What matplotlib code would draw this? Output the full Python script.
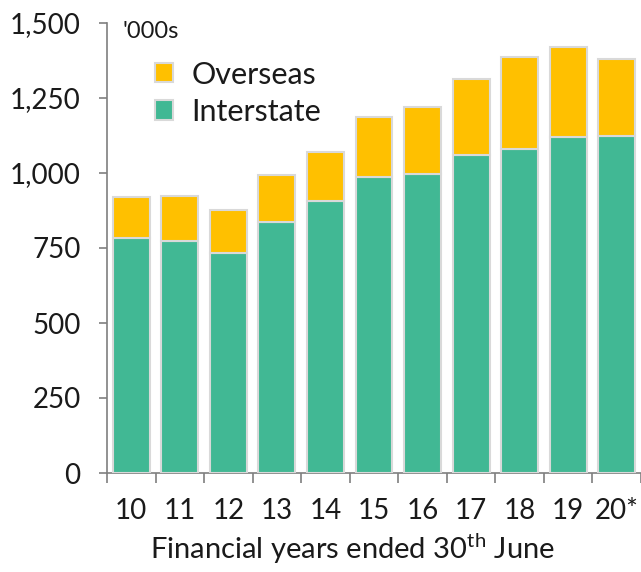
import matplotlib.pyplot as plt
import numpy as np

# visitors, '000s, financial years ended 30th June
years = ["10", "11", "12", "13", "14", "15", "16", "17", "18", "19", "20*"]
interstate = [783, 773, 733, 837, 907, 987, 997, 1060, 1080, 1120, 1124]
overseas = [137, 150, 144, 156, 163, 200, 223, 253, 307, 299, 255]

green = "#41B894"
yellow = "#FFC000"
edge = "#D9D9D9"
axis_col = "#7F7F7F"
text_col = "#1A1A1A"

plt.rcParams["font.family"] = ["Lato", "DejaVu Sans"]
plt.rcParams["mathtext.fontset"] = "custom"
plt.rcParams["mathtext.rm"] = "Lato"

fig = plt.figure(figsize=(6.41, 5.72), dpi=100)
ax = fig.add_axes([107 / 641, 99 / 572, 534 / 641, 450 / 572])

x = np.arange(len(years))
b1 = ax.bar(x, interstate, width=0.76, color=green, edgecolor=edge, linewidth=1.5, zorder=3)
b2 = ax.bar(x, overseas, width=0.76, bottom=interstate, color=yellow, edgecolor=edge,
            linewidth=1.5, zorder=3)

ax.set_xlim(-0.5, 10.42)
ax.set_ylim(0, 1500)

for s in ["top", "right"]:
    ax.spines[s].set_visible(False)
for s in ["left", "bottom"]:
    ax.spines[s].set_color(axis_col)
    ax.spines[s].set_linewidth(1.2)

ax.set_yticks([0, 250, 500, 750, 1000, 1250, 1500])
ax.set_yticklabels(["0", "250", "500", "750", "1,000", "1,250", "1,500"])
ax.tick_params(axis="y", length=6, width=1.2, color=axis_col, pad=13,
               labelsize=20, labelcolor=text_col)

ax.set_xticks(x)
ax.set_xticklabels(years)
ax.set_xticks(np.arange(-0.5, 11, 1), minor=True)
ax.tick_params(axis="x", which="major", length=0, pad=18, labelsize=20, labelcolor=text_col)
ax.tick_params(axis="x", which="minor", length=7, width=1.2, color=axis_col)

ax.set_xlabel("Financial years ended 30$^{\\rm th}$ June", fontsize=21, color=text_col)
ax.xaxis.set_label_coords((352 - 107) / 534, -0.128)

fig.text(122 / 641, 1 - 32 / 572, "'000s", fontsize=17, color=text_col, va="center")

ax.legend([b2, b1], ["Overseas", "Interstate"], loc="upper left",
          bbox_to_anchor=(127 / 641, 1 - 33 / 572), bbox_transform=fig.transFigure,
          frameon=False, fontsize=22, handlelength=0.6, handleheight=0.6,
          handletextpad=0.6, labelspacing=0.3, labelcolor=text_col)

fig.savefig("out.png", dpi=100, facecolor="white")
